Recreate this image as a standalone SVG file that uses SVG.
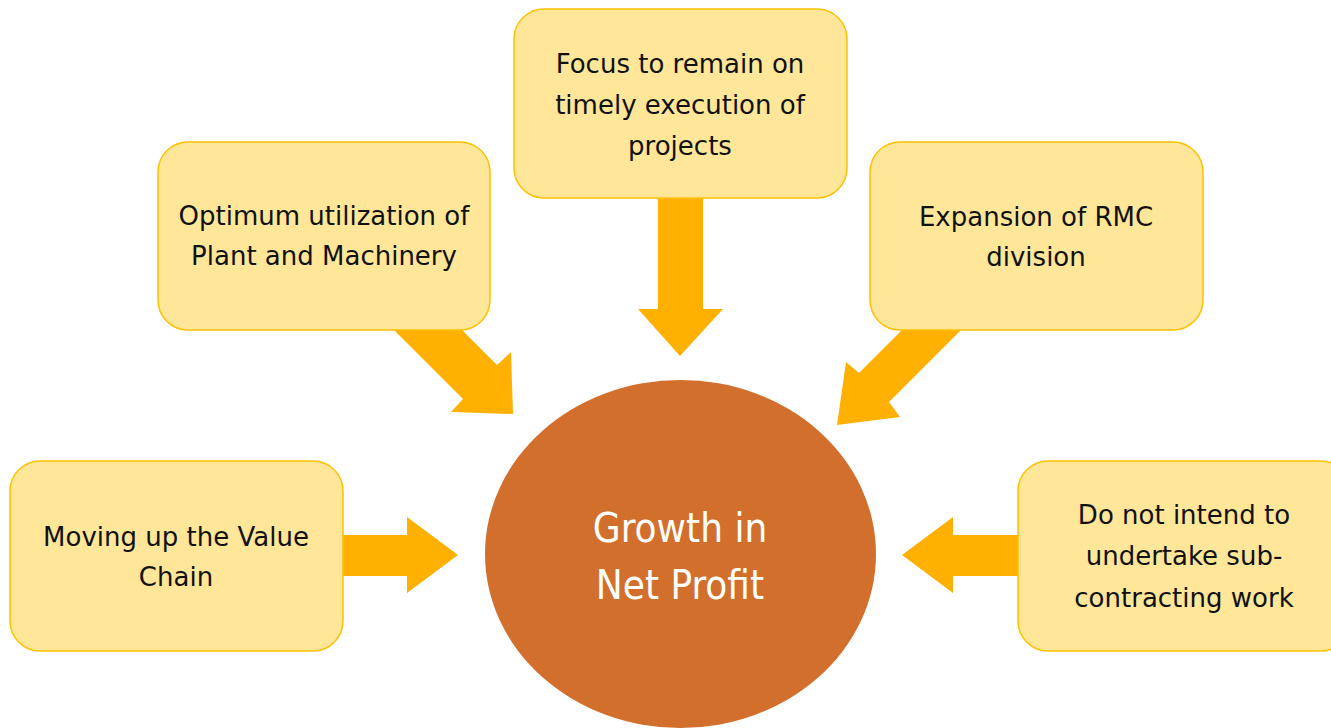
<svg xmlns="http://www.w3.org/2000/svg" width="1331" height="728" viewBox="0 0 1331 728">
  <style>
    .box { fill: #FFE699; stroke: #FFC000; stroke-width: 1.5; }
    .arrow { fill: #FFB000; }
    .t { font-family: "DejaVu Sans", sans-serif; font-size: 26px; fill: #111; text-anchor: middle; }
    .ct { font-family: "DejaVu Sans Condensed", "DejaVu Sans", sans-serif; font-size: 40px; fill: #ffffff; text-anchor: middle; }
  </style>
  <rect width="1331" height="728" fill="#ffffff"/>
  <g id="connectors">
    <polygon class="arrow" points="658,190 703,190 703,309 723,309 680,356 638,309 658,309"/>
    <polygon class="arrow" points="364,300 432,300 497,365 511,352 513,414 451,412 463,399"/>
    <polygon class="arrow" points="932,300 991,300 889,402 900,417 837,425 846,362 859,373"/>
    <polygon class="arrow" points="330,535 407,535 407,517 458,555 407,593 407,576 330,576"/>
    <polygon class="arrow" points="1030,535 953,535 953,517 902,555 953,593 953,576 1030,576"/>
  </g>
  <g id="center">
    <ellipse cx="680.5" cy="554" rx="195.5" ry="174" fill="#D36F2D"/>
    <text class="ct" x="680" y="542">Growth in</text>
    <text class="ct" x="680" y="599">Net Profit</text>
  </g>
  <g id="node-top">
    <rect class="box" x="514" y="9" width="333" height="189" rx="30"/>
    <text class="t" x="680" y="73">Focus to remain on</text>
    <text class="t" x="680" y="114">timely execution of</text>
    <text class="t" x="680" y="155">projects</text>
  </g>
  <g id="node-upper-left">
    <rect class="box" x="158" y="142" width="332" height="188" rx="30"/>
    <text class="t" x="324" y="225">Optimum utilization of</text>
    <text class="t" x="324" y="265">Plant and Machinery</text>
  </g>
  <g id="node-upper-right">
    <rect class="box" x="870" y="142" width="333" height="188" rx="30"/>
    <text class="t" x="1036" y="226">Expansion of RMC</text>
    <text class="t" x="1036" y="266">division</text>
  </g>
  <g id="node-lower-left">
    <rect class="box" x="10" y="461" width="333" height="190" rx="30"/>
    <text class="t" x="176" y="546">Moving up the Value</text>
    <text class="t" x="176" y="586">Chain</text>
  </g>
  <g id="node-lower-right">
    <rect class="box" x="1018" y="461" width="333" height="190" rx="30"/>
    <text class="t" x="1184" y="524">Do not intend to</text>
    <text class="t" x="1184" y="565">undertake sub-</text>
    <text class="t" x="1184" y="607">contracting work</text>
  </g>
</svg>
